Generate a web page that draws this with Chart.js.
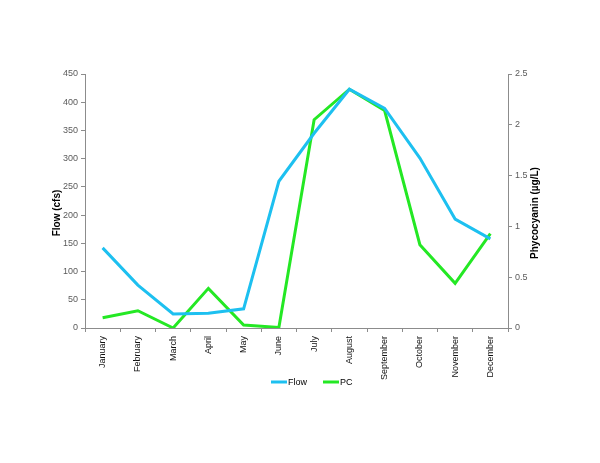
<!DOCTYPE html>
<html>
<head>
<meta charset="utf-8">
<script src="https://cdn.jsdelivr.net/npm/chart.js@4/dist/chart.umd.min.js"></script>
<style>
html,body{margin:0;padding:0;background:#fff;}
#wrap{width:600px;height:463px;position:relative;}
</style>
</head>
<body>
<div id="wrap"><canvas id="c" width="600" height="463"></canvas></div>
<script>
const months = ["January","February","March","April","May","June","July","August","September","October","November","December"];
const flowValues = [142, 76, 25, 26, 34, 260, 345, 423, 389, 301, 193, 158];
const pcValues = [0.10, 0.17, 0.00, 0.39, 0.03, 0.005, 2.05, 2.35, 2.14, 0.82, 0.44, 0.93];
const flowTicks = [0, 50, 100, 150, 200, 250, 300, 350, 400, 450];
const pcTicks = [0, 0.5, 1, 1.5, 2, 2.5];
const seriesNames = ["Flow", "PC"];
const axisTitles = ["Flow (cfs)", "Phycocyanin (µg/L)"];

const FONT = "'Liberation Sans', Arial, sans-serif";
const blue = "#1DC0F0";
const green = "#24E824";
const axisGrey = "#8c8c8c";
const tickText = "#5a5a5a";

// Draws axis titles (both reading bottom-to-top) and the legend row below the axis labels
const decor = {
  id: 'decor',
  afterDraw(chart) {
    const ctx = chart.ctx;
    const area = chart.chartArea;
    const midY = (area.top + area.bottom) / 2 + 12;
    ctx.save();
    ctx.fillStyle = '#000';
    ctx.font = "bold 10px " + FONT;
    ctx.textAlign = 'center';
    ctx.textBaseline = 'middle';
    ctx.save();
    ctx.translate(chart.scales.y.left + 12, midY);
    ctx.rotate(-Math.PI / 2);
    ctx.fillText(axisTitles[0], 0, 0);
    ctx.restore();
    ctx.save();
    ctx.translate(chart.scales.y1.right - 10, midY);
    ctx.rotate(-Math.PI / 2);
    ctx.fillText(axisTitles[1], 0, 0);
    ctx.restore();
    // legend
    ctx.font = "9px " + FONT;
    ctx.textAlign = 'left';
    const ly = area.bottom + 54;
    let x = 271;
    chart.data.datasets.forEach((ds) => {
      ctx.strokeStyle = ds.borderColor;
      ctx.lineWidth = 3;
      ctx.beginPath();
      ctx.moveTo(x, ly);
      ctx.lineTo(x + 16, ly);
      ctx.stroke();
      ctx.fillStyle = '#000';
      ctx.fillText(ds.label, x + 17, ly + 1);
      x += 17 + ctx.measureText(ds.label).width + 16;
    });
    ctx.restore();
  }
};

new Chart(document.getElementById('c'), {
  type: 'line',
  data: {
    labels: months,
    datasets: [
      { label: seriesNames[0], data: flowValues, yAxisID: 'y', borderColor: blue, backgroundColor: blue,
        borderWidth: 3, pointRadius: 0, tension: 0, fill: false },
      { label: seriesNames[1], data: pcValues, yAxisID: 'y1', borderColor: green, backgroundColor: green,
        borderWidth: 3, pointRadius: 0, tension: 0, fill: false }
    ]
  },
  plugins: [decor],
  options: {
    responsive: false,
    animation: false,
    devicePixelRatio: 1,
    layout: { padding: { left: 45, right: 55, top: 74, bottom: 79 } },
    plugins: {
      tooltip: { enabled: false },
      legend: { display: false }
    },
    scales: {
      x: {
        offset: true,
        grid: { display: true, offset: true, drawOnChartArea: false, drawTicks: true, tickLength: 4, color: axisGrey },
        border: { display: true, color: axisGrey, width: 1 },
        ticks: { minRotation: 90, maxRotation: 90, autoSkip: false, color: '#111', font: { family: FONT, size: 9 }, padding: 4 },
        afterFit: (s) => { s.height = 56; }
      },
      y: {
        position: 'left',
        min: 0, max: 450,
        afterBuildTicks: (s) => { s.ticks = flowTicks.map(v => ({ value: v })); },
        grid: { drawOnChartArea: false, drawTicks: true, tickLength: 4, color: axisGrey },
        border: { display: true, color: axisGrey, width: 1 },
        ticks: { color: tickText, font: { family: FONT, size: 9 }, padding: 3 },
        afterFit: (s) => { s.width = 40; }
      },
      y1: {
        position: 'right',
        min: 0, max: 2.5,
        afterBuildTicks: (s) => { s.ticks = pcTicks.map(v => ({ value: v })); },
        grid: { drawOnChartArea: false, drawTicks: true, tickLength: 4, color: axisGrey },
        border: { display: true, color: axisGrey, width: 1 },
        ticks: { color: tickText, font: { family: FONT, size: 9 }, padding: 3, callback: (v) => String(v) },
        afterFit: (s) => { s.width = 37; }
      }
    }
  }
});
</script>
</body>
</html>
